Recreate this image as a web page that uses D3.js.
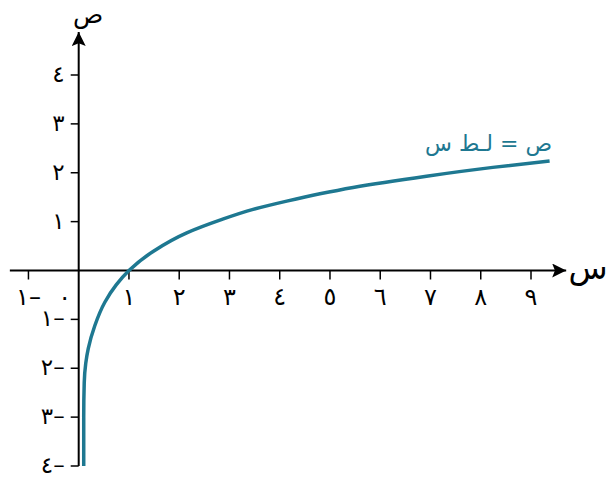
<!DOCTYPE html>
<html><head><meta charset="utf-8">
<script src="https://cdn.jsdelivr.net/npm/d3@7/dist/d3.min.js"></script>
<style>html,body{margin:0;padding:0;background:#fff;}svg{display:block;}</style>
</head><body>
<script>
// Curve samples: y = ln x
const curveX = [0.10, 0.10, 0.11, 0.14, 0.19, 0.32, 0.52, 0.75, 1.00, 1.48, 2.15, 2.81, 3.47, 4.14, 4.80, 5.46, 6.92, 8.24, 9.37];
const curveY = [-4.0, -3.0, -2.3, -1.9, -1.6, -1.13, -0.65, -0.29, 0.0, 0.39, 0.77, 1.03, 1.25, 1.42, 1.57, 1.70, 1.93, 2.11, 2.24];
const xTicks = [-1, 1, 2, 3, 4, 5, 6, 7, 8, 9];
const yTicks = [-4, -3, -2, -1, 1, 2, 3, 4];
const xTickLabels = ["١–", "١", "٢", "٣", "٤", "٥", "٦", "٧", "٨", "٩"];
const yTickLabels = ["٤–", "٣–", "٢–", "١–", "١", "٢", "٣", "٤"];
const originLabel = "٠";
const xAxisTitle = "س";
const yAxisTitle = "ص";
const curveLabel = "ص = لـط س";

const W = 608, H = 478;
const teal = "#1e7891";
const font = "'DejaVu Sans', sans-serif";

const x = d3.scaleLinear().domain([0, 9]).range([78.7, 531]);
const y = d3.scaleLinear().domain([-4, 4]).range([466, 75]);

const svg = d3.select("body").append("svg").attr("width", W).attr("height", H);

svg.append("defs").append("marker")
  .attr("id", "arr").attr("viewBox", "0 0 10 10").attr("refX", 10).attr("refY", 5)
  .attr("markerWidth", 8.5).attr("markerHeight", 7).attr("markerUnits", "strokeWidth")
  .attr("orient", "auto")
  .append("path").attr("d", "M0,0 L10,5 L0,10 L2,5 Z").attr("fill", "#000");

// x axis line
svg.append("line").attr("x1", x(-1.37)).attr("x2", x(9.7))
  .attr("y1", y(0)).attr("y2", y(0)).attr("stroke", "#000").attr("stroke-width", 2)
  .attr("marker-end", "url(#arr)");
// y axis line
svg.append("line").attr("x1", x(0)).attr("x2", x(0))
  .attr("y1", y(-4)).attr("y2", 32).attr("stroke", "#000").attr("stroke-width", 2)
  .attr("marker-end", "url(#arr)");

// x ticks
const xg = svg.append("g");
xg.selectAll("line").data(xTicks).join("line")
  .attr("x1", d => x(d)).attr("x2", d => x(d))
  .attr("y1", y(0)).attr("y2", y(0) + 9).attr("stroke", "#000").attr("stroke-width", 1.5);
xg.selectAll("text").data(xTicks).join("text")
  .attr("x", d => x(d)).attr("y", y(0) + 34)
  .attr("text-anchor", "middle").attr("font-family", font).attr("font-size", 24)
  .attr("direction", "ltr")
  .text((d, i) => xTickLabels[i]);
svg.append("text").attr("x", x(0) - 14).attr("y", y(0) + 34)
  .attr("text-anchor", "middle").attr("font-family", font).attr("font-size", 24)
  .text(originLabel);

// y ticks
const yg = svg.append("g");
yg.selectAll("line").data(yTicks).join("line")
  .attr("x1", x(0) - 8).attr("x2", x(0))
  .attr("y1", d => y(d)).attr("y2", d => y(d)).attr("stroke", "#000").attr("stroke-width", 1.5);
yg.selectAll("text").data(yTicks).join("text")
  .attr("x", x(0) - 14).attr("y", d => y(d) + 7)
  .attr("text-anchor", "end").attr("font-family", font).attr("font-size", 23)
  .attr("direction", "ltr")
  .text((d, i) => yTickLabels[i]);

// axis titles
svg.append("text").attr("x", 88).attr("y", 23).attr("text-anchor", "middle")
  .attr("font-family", font).attr("font-size", 25).text(yAxisTitle);
svg.append("text").attr("x", 588).attr("y", y(0) + 8).attr("text-anchor", "middle")
  .attr("font-family", font).attr("font-size", 32).text(xAxisTitle);

// curve
const pts = curveX.map((v, i) => [v, curveY[i]]);
svg.append("path").datum(pts)
  .attr("d", d3.line().x(d => x(d[0])).y(d => y(d[1])).curve(d3.curveMonotoneY))
  .attr("fill", "none").attr("stroke", teal).attr("stroke-width", 3.5);

// curve label
svg.append("text").attr("x", 552).attr("y", 151).attr("text-anchor", "start")
  .attr("direction", "rtl").attr("font-family", font).attr("font-size", 22)
  .attr("fill", teal).text(curveLabel);
</script>
</body></html>
